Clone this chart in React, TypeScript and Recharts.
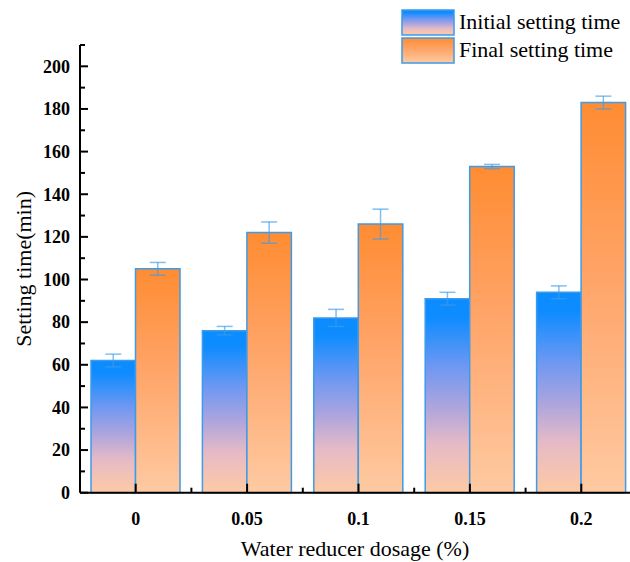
import React from 'react';
import { BarChart, Bar, XAxis, YAxis, ErrorBar, Label } from 'recharts';

// Setting time of the mix for each water reducer dosage (%)
const dosages = ['0', '0.05', '0.1', '0.15', '0.2'];
const initialSetting = [62, 76, 82, 91, 94];
const initialError = [3, 2, 4, 3, 3];
const finalSetting = [105, 122, 126, 153, 183];
const finalError = [3, 5, 7, 1, 3];
const yTicks = [0, 10, 20, 30, 40, 50, 60, 70, 80, 90, 100, 110, 120, 130, 140, 150, 160, 170, 180, 190, 200, 210];
const seriesNames = ['Initial setting time', 'Final setting time'];

const data = dosages.map((d, i) => ({
  dosage: d,
  initial: initialSetting[i],
  initialErr: initialError[i],
  final: finalSetting[i],
  finalErr: finalError[i],
}));

const FONT = '"Liberation Serif", "Times New Roman", serif';
const EDGE = '#3d9be9';
const serif = { fontFamily: FONT };
const serifBold = { fontFamily: FONT, fontWeight: 700 };

const blueStops: [string, string][] = [
  ['0%', '#0a8cff'],
  ['10%', '#0f8cff'],
  ['35%', '#6e98f2'],
  ['55%', '#aba4de'],
  ['75%', '#e6bac6'],
  ['100%', '#fecaa4'],
];
const orangeStops: [string, string][] = [
  ['0%', '#ff8c32'],
  ['45%', '#ffa468'],
  ['100%', '#fecaa2'],
];

const Grad = ({ id, stops }: { id: string; stops: [string, string][] }) => (
  <linearGradient id={id} x1="0" y1="0" x2="0" y2="1">
    {stops.map(([o, c]) => (
      <stop key={o} offset={o} stopColor={c} />
    ))}
  </linearGradient>
);

const XTick = (props: any) => {
  const { x, y, payload } = props;
  const half = payload && typeof payload.offset === 'number' ? payload.offset : 0;
  return (
    <g>
      <line x1={x} y1={y} x2={x} y2={y - 9} stroke="#000" strokeWidth={2} />
      {half ? <line x1={x + half} y1={y} x2={x + half} y2={y - 5} stroke="#000" strokeWidth={2} /> : null}
      <text x={x} y={y + 32} textAnchor="middle" style={serifBold} fontSize={18} fill="#000">
        {payload.value}
      </text>
    </g>
  );
};

const YTick = (props: any) => {
  const { x, y, payload } = props;
  const major = payload.value % 20 === 0;
  return (
    <g>
      <line x1={x} y1={y} x2={x + (major ? 8 : 5)} y2={y} stroke="#000" strokeWidth={2} />
      {major ? (
        <text x={x - 10} y={y} dy="0.35em" textAnchor="end" style={serifBold} fontSize={18} fill="#000">
          {payload.value}
        </text>
      ) : null}
    </g>
  );
};

const YTitle = (props: any) => {
  const vb = props.viewBox || { x: 0, y: 0, width: 80, height: 0 };
  const cx = vb.x + 31;
  const cy = vb.y + vb.height / 2;
  return (
    <text x={cx} y={cy} transform={`rotate(-90, ${cx}, ${cy})`} textAnchor="middle" style={serif} fontSize={22} fill="#000">
      Setting time(min)
    </text>
  );
};

const XTitle = (props: any) => {
  const vb = props.viewBox || { x: 0, y: 0, width: 0, height: 0 };
  return (
    <text x={vb.x + (630 - vb.x) / 2} y={vb.y + 63} textAnchor="middle" style={serif} fontSize={22} fill="#000">
      Water reducer dosage (%)
    </text>
  );
};

const LegendBox = () => (
  <svg width={630} height={70} style={{ position: 'absolute', left: 0, top: 0 }}>
    <defs>
      <Grad id="legBlue" stops={blueStops} />
      <Grad id="legOrange" stops={orangeStops} />
    </defs>
    {seriesNames.map((name, i) => (
      <g key={name}>
        <rect x={402} y={10 + i * 28} width={52} height={25} fill={i === 0 ? 'url(#legBlue)' : 'url(#legOrange)'} stroke={EDGE} strokeWidth={1.5} />
        <text x={459} y={29 + i * 28} style={serif} fontSize={22} fill="#000">
          {name}
        </text>
      </g>
    ))}
  </svg>
);

export default function App() {
  return (
    <div style={{ position: 'absolute', left: 0, top: 0, width: 630, height: 562, overflow: 'hidden', background: '#fff' }}>
      <BarChart width={637} height={562} data={data} margin={{ top: 45, right: 0, bottom: 0, left: 0 }} barGap={0} barSize={44.5}>
        <defs>
          <Grad id="barBlue" stops={blueStops} />
          <Grad id="barOrange" stops={orangeStops} />
        </defs>
        <XAxis
          dataKey="dosage"
          type="category"
          height={69.3}
          axisLine={{ stroke: '#000', strokeWidth: 2 }}
          tickLine={false}
          tickSize={0}
          tickMargin={0}
          interval={0}
          tick={<XTick />}
        >
          <Label content={<XTitle />} />
        </XAxis>
        <YAxis
          type="number"
          domain={[0, 210]}
          ticks={yTicks}
          interval={0}
          width={80}
          axisLine={{ stroke: '#000', strokeWidth: 2 }}
          tickLine={false}
          tickSize={0}
          tickMargin={0}
          tick={<YTick />}
        >
          <Label content={<YTitle />} />
        </YAxis>
        <Bar dataKey="initial" name={seriesNames[0]} fill="url(#barBlue)" stroke={EDGE} strokeWidth={1.5} isAnimationActive={false}>
          <ErrorBar dataKey="initialErr" width={8} stroke={EDGE} strokeOpacity={0.65} strokeWidth={1.5} isAnimationActive={false} />
        </Bar>
        <Bar dataKey="final" name={seriesNames[1]} fill="url(#barOrange)" stroke={EDGE} strokeWidth={1.5} isAnimationActive={false}>
          <ErrorBar dataKey="finalErr" width={8} stroke={EDGE} strokeOpacity={0.65} strokeWidth={1.5} isAnimationActive={false} />
        </Bar>
      </BarChart>
      <LegendBox />
    </div>
  );
}
